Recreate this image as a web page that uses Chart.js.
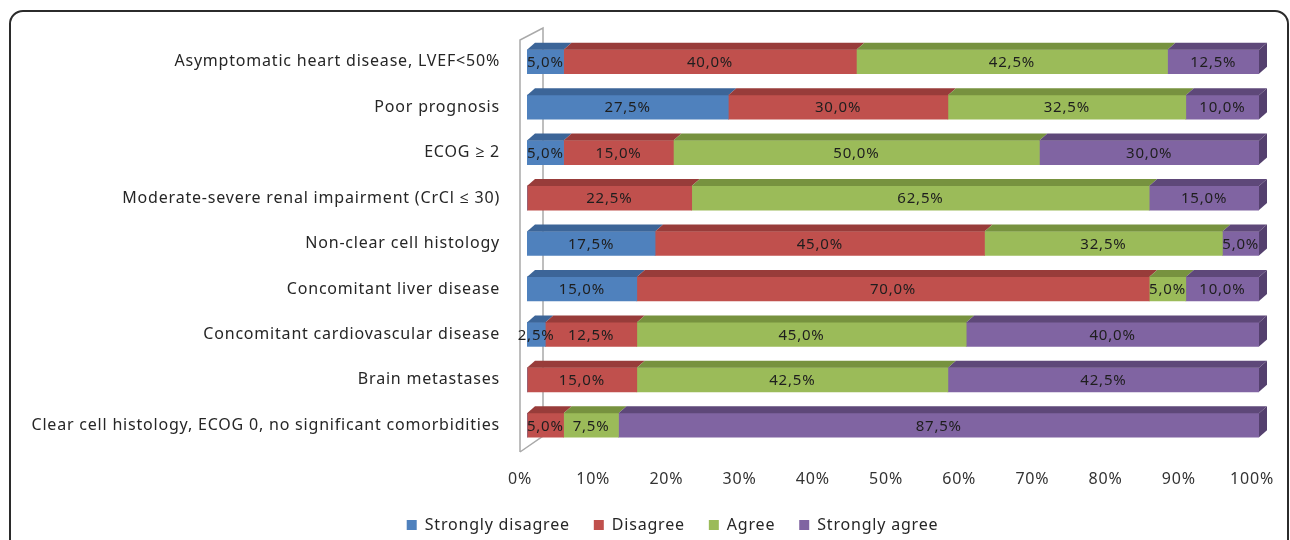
<!DOCTYPE html>
<html>
<head>
<meta charset="utf-8">
<script src="https://cdn.jsdelivr.net/npm/chart.js@4.4.0/dist/chart.umd.min.js"></script>
<style>
    html, body { margin: 0; padding: 0; background: #fff; overflow: hidden; }
    #frame {
        position: absolute; left: 9px; top: 10px;
        width: 1276px; height: 600px;
        border: 2px solid #2b2b2b; border-radius: 14px;
    }
    #wrap { position: absolute; left: 0; top: 0; width: 1290px; height: 540px; }
</style>
</head>
<body>
<div id="frame"></div>
<div id="wrap"><canvas id="surveyChart" width="1290" height="540"></canvas></div>
<script>
const categories = [
    'Asymptomatic heart disease, LVEF<50%',
    'Poor prognosis',
    'ECOG \u2265 2',
    'Moderate-severe renal impairment (CrCl \u2264 30)',
    'Non-clear cell histology',
    'Concomitant liver disease',
    'Concomitant cardiovascular disease',
    'Brain metastases',
    'Clear cell histology, ECOG 0, no significant comorbidities'
];
const seriesNames = ['Strongly disagree', 'Disagree', 'Agree', 'Strongly agree'];
const stronglyDisagree = [5, 27.5, 5, 0, 17.5, 15, 2.5, 0, 0];
const disagree = [40, 30, 15, 22.5, 45, 70, 12.5, 15, 5];
const agree = [42.5, 32.5, 50, 62.5, 32.5, 5, 45, 42.5, 7.5];
const stronglyAgree = [12.5, 10, 30, 15, 5, 10, 40, 42.5, 87.5];
const xTickValues = [0, 10, 20, 30, 40, 50, 60, 70, 80, 90, 100];

const frontColors = ['#4f81bd', '#c0504d', '#9bbb59', '#8064a2'];
const topColors = ['#3c6598', '#983c3a', '#77923f', '#5e4879'];
const sideColors = ['#35598a', '#8a3634', '#6b8538', '#54406e'];

const FONT = '"Noto Sans", "Open Sans", sans-serif';
const DX = 8, DY = 7;

const fmtPct = v => v.toFixed(1).replace('.', ',') + '%';

// the original text is a bit letter-spaced
const spacing = {
    id: 'spacing',
    beforeUpdate(chart) { chart.ctx.letterSpacing = '0.8px'; },
    beforeDraw(chart) { chart.ctx.letterSpacing = '0.8px'; }
};

// back wall of the 3D plot
const wallPlugin = {
    id: 'wall',
    beforeDatasetsDraw(chart) {
        const a = chart.chartArea;
        const ctx = chart.ctx;
        ctx.save();
        ctx.strokeStyle = '#a9a9a9';
        ctx.lineWidth = 1.5;
        ctx.beginPath();
        ctx.moveTo(a.left - 7, a.bottom + 4);
        ctx.lineTo(a.left - 7, a.top + 1);
        ctx.lineTo(a.left + 16, a.top - 11);
        ctx.lineTo(a.left + 16, a.bottom - 12);
        ctx.lineTo(a.left - 7, a.bottom + 4);
        ctx.stroke();
        ctx.restore();
    }
};

// top and end faces of the bars, then the value labels
const bar3dPlugin = {
    id: 'bar3d',
    afterDatasetsDraw(chart) {
        const ctx = chart.ctx;
        const n = chart.data.labels.length;
        ctx.save();
        for (let j = 0; j < n; j++) {
            let last = -1;
            chart.data.datasets.forEach((ds, i) => { if (ds.data[j] > 0) last = i; });
            chart.data.datasets.forEach((ds, i) => {
                if (!(ds.data[j] > 0)) return;
                const p = chart.getDatasetMeta(i).data[j].getProps(['x', 'y', 'base', 'height'], true);
                const x0 = Math.min(p.x, p.base), x1 = Math.max(p.x, p.base);
                const yt = p.y - p.height / 2, yb = p.y + p.height / 2;
                ctx.fillStyle = topColors[i];
                ctx.beginPath();
                ctx.moveTo(x0, yt);
                ctx.lineTo(x1, yt);
                ctx.lineTo(x1 + DX, yt - DY);
                ctx.lineTo(x0 + DX, yt - DY);
                ctx.closePath();
                ctx.fill();
                if (i === last) {
                    ctx.fillStyle = sideColors[i];
                    ctx.beginPath();
                    ctx.moveTo(x1, yt);
                    ctx.lineTo(x1 + DX, yt - DY);
                    ctx.lineTo(x1 + DX, yb - DY);
                    ctx.lineTo(x1, yb);
                    ctx.closePath();
                    ctx.fill();
                }
            });
        }
        ctx.font = '15px ' + FONT;
        ctx.fillStyle = '#1e1e1e';
        ctx.textAlign = 'center';
        ctx.textBaseline = 'middle';
        chart.data.datasets.forEach((ds, i) => {
            chart.getDatasetMeta(i).data.forEach((bar, j) => {
                const v = ds.data[j];
                if (!(v > 0)) return;
                const p = bar.getProps(['x', 'y', 'base'], true);
                ctx.fillText(fmtPct(v), (p.x + p.base) / 2, p.y + 1);
            });
        });
        ctx.restore();
    }
};

// nudge the legend to where the original sits
const legendShift = {
    id: 'legendShift',
    afterLayout(chart) {
        const lg = chart.legend;
        const dy = 493 - lg.top;
        lg.left += 43; lg.right += 43;
        lg.top += dy; lg.bottom += dy;
    }
};

const ctx = document.getElementById('surveyChart').getContext('2d');
window.surveyChart = new Chart(ctx, {
    type: 'bar',
    data: {
        labels: categories,
        datasets: [stronglyDisagree, disagree, agree, stronglyAgree].map((values, i) => ({
            label: seriesNames[i],
            data: values,
            backgroundColor: frontColors[i],
            borderWidth: 0,
            barThickness: 24
        }))
    },
    options: {
        indexAxis: 'y',
        responsive: false,
        animation: false,
        layout: { padding: { top: 39, right: 31, left: 0, bottom: 0 } },
        scales: {
            x: {
                stacked: true,
                min: 0,
                max: 100,
                afterBuildTicks: s => { s.ticks = xTickValues.map(v => ({ value: v })); },
                afterFit: s => { s.height = 540 - (s.chart.legend ? s.chart.legend.height : 50) - 448; },
                border: { display: false },
                grid: { display: false, drawTicks: true, tickLength: 20 },
                ticks: {
                    padding: 2,
                    labelOffset: -7,
                    color: '#333',
                    font: { family: FONT, size: 16 },
                    callback: v => v + '%'
                }
            },
            y: {
                stacked: true,
                afterFit: s => { s.width = 527; },
                border: { display: false },
                grid: { display: false, drawTicks: false },
                ticks: {
                    padding: 27,
                    color: '#262626',
                    font: { family: FONT, size: 16 }
                }
            }
        },
        plugins: {
            legend: {
                position: 'bottom',
                labels: {
                    boxWidth: 10,
                    boxHeight: 10,
                    padding: 24,
                    color: '#262626',
                    font: { family: FONT, size: 16 }
                }
            },
            tooltip: { enabled: false }
        }
    },
    plugins: [spacing, wallPlugin, bar3dPlugin, legendShift]
});
</script>
</body>
</html>
